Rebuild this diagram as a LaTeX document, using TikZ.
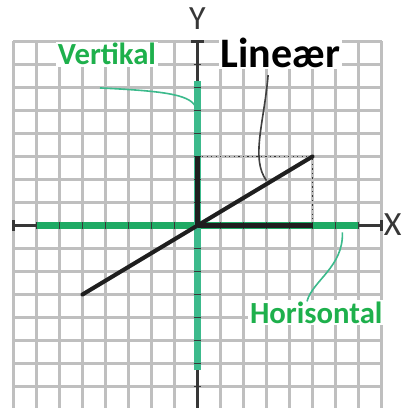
\documentclass[tikz,border=0pt]{standalone}
\usepackage{fontspec}
\setmainfont{Carlito}
\definecolor{lgreen}{RGB}{30,176,76}
\definecolor{hgreen}{RGB}{30,170,100}
\definecolor{vgreen}{RGB}{60,186,140}
\definecolor{axisgray}{RGB}{55,55,55}
\begin{document}
\begin{tikzpicture}[x=0.5cm,y=0.5cm]
\tikzset{
 gridline/.style={draw=black!25, line width=1.5pt},
 axisline/.style={draw=axisgray, line width=1.5pt},
 tickmark/.style={draw=axisgray, line width=1.2pt},
 greenH/.style={draw=hgreen, line width=4.4pt},
 greenV/.style={draw=vgreen, line width=3.8pt},
 blackthick/.style={draw=black!88, line width=3pt},
 diag/.style={draw=black!88, line width=2.5pt},
 dotline/.style={draw=black!80, line width=0.8pt, dotted},
 leaderT/.style={draw=vgreen, line width=1pt},
 leaderK/.style={draw=black!75, line width=1pt},
 lbl/.style={font=\bfseries\fontsize{19}{22}\selectfont, text=lgreen, inner sep=1pt, fill=white, anchor=base west},
 axlbl/.style={font=\fontsize{21}{24}\selectfont, text=axisgray, inner sep=0pt},
}
\useasboundingbox (-8.587,-7.935) rectangle (8.891,9.804);
\clip (-8.587,-7.935) rectangle (8.891,9.804);
% grid
\draw[gridline, step=0.5cm] (-8,-8.5) grid (8,8);
% axes
\draw[axisline] (-8,0) -- (8,0);
\draw[axisline] (0,8) -- (0,-8.5);
\draw[axisline] (-8,-0.22) -- (-8,0.22);
\draw[axisline] (8,-0.22) -- (8,0.22);
\draw[axisline] (-0.27,8) -- (0.27,8);
% green thick
\draw[greenH] (-7,0) -- (7,0);
\draw[greenV] (0,-6.3) -- (0,6.3);
% ticks
\foreach \i in {-7,...,-1,1,2,...,7}{
  \draw[tickmark] (\i,-0.17) -- (\i,0.17);
}
\foreach \i in {-8,...,-1,1,2,...,7}{
  \draw[tickmark] (-0.17,\i) -- (0.17,\i);
}
% black components
\coordinate (O) at (0,0);
\coordinate (P) at (5,3);
\coordinate (Q) at (-5,-3);
\coordinate (Py) at (0,3);
\coordinate (Px) at (5,0);
\draw[dotline] (Py) -- (P) -- (Px);
\draw[blackthick] (O) -- (Px);
\draw[blackthick] (O) -- (Py);
\draw[diag, line cap=round] (Q) -- (P);
% axis labels
\node[axlbl] (ylab) at (0,8.98) {Y};
\node[axlbl, anchor=east] (xlab) at (8.88,0.02) {X};
% labels
\node[lbl] (vert) at (-6.15,6.98) {Vertikal};
\node[lbl, text=black, font=\bfseries\fontsize{26}{30}\selectfont] (lin) at (0.92,6.89) {Lineær};
\node[lbl] (hor) at (2.2,-4.24) {Horisontal};
% leaders
\coordinate (v0) at (-4.24,5.98);
\coordinate (v1) at (-0.1,5.2);
\coordinate (l0) at (3.07,6.54);
\coordinate (l1) at (3.0,1.95);
\coordinate (h0) at (4.76,-3.3);
\coordinate (h1) at (6.3,-0.3);
\draw[leaderT] (v0) .. controls (-1.5,5.85) and (-0.4,5.7) .. (v1);
\draw[leaderK] (l0) .. controls (2.9,4.5) and (2.3,2.9) .. (l1);
\draw[leaderT] (h0) .. controls (5.0,-2.4) and (6.35,-1.8) .. (h1);
\end{tikzpicture}
\end{document}
